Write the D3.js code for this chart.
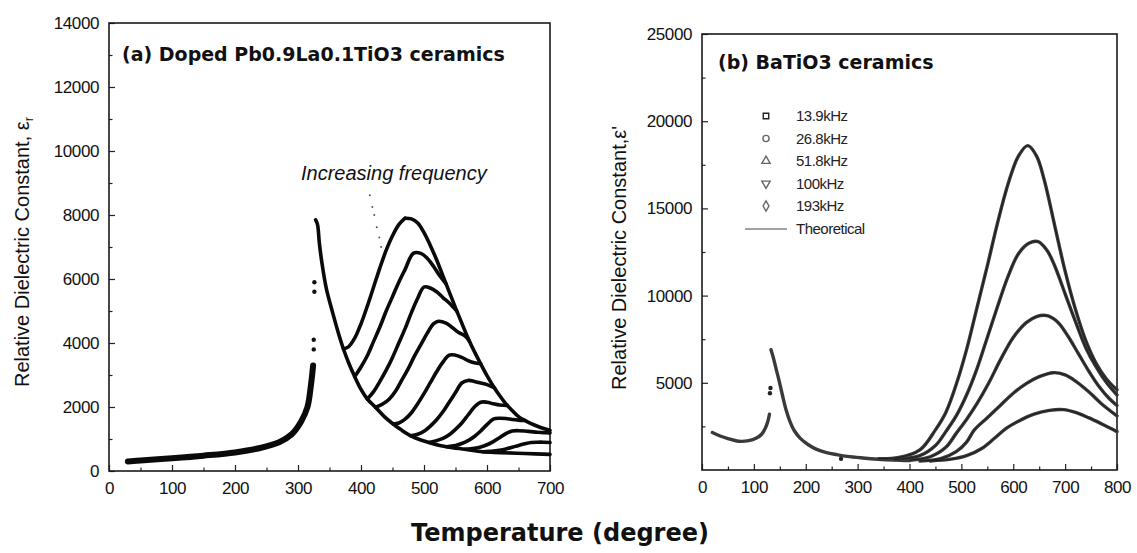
<!DOCTYPE html>
<html>
<head>
<meta charset="utf-8">
<script src="https://cdn.jsdelivr.net/npm/d3@7"></script>
<style>
body { margin: 0; background: #fff; }
</style>
</head>
<body>
<svg id="chart" width="1137" height="553"></svg>
<script>
// ---- panel (a): Pb0.9La0.1TiO3, [T, eps] ----
const aLow = [[30,300],[50,330],[100,400],[150,480],[200,580],[240,720],[270,900],[290,1150],[305,1550],[315,2000],[320,2600],[324,3300]];
const aSpikeDots = [[325,3800],[325,4100],[326,5600],[326,5900]];
const aDesc = [[328,7850],[331,7700],[334,7100],[338,6500],[345,5700],[355,4950],[365,4250],[372,3820],[380,3400],[390,2950],[400,2550],[410,2250],[423,1990],[437,1700],[451,1470],[465,1270],[479,1100],[495,970],[508,890],[525,800],[545,730],[565,680],[593,600],[621,575],[660,545],[700,520]];
const aTop = [[470,7900],[480,7880],[490,7750],[500,7450],[510,7050],[520,6600],[530,6100],[540,5600],[550,5100],[560,4620],[570,4150],[580,3730],[590,3350],[600,2980],[610,2650],[620,2360],[630,2100],[640,1890],[650,1700],[660,1580],[670,1480],[680,1400],[690,1330],[700,1270]];
const aHump1 = [[372,3820],[380,3880],[390,4150],[400,4600],[410,5150],[420,5750],[430,6350],[440,6900],[450,7350],[460,7700],[470,7900]];
const aHump2 = [[390,2950],[400,3250],[410,3600],[420,4050],[430,4500],[440,5000],[450,5450],[460,5900],[470,6300],[483,6800],[495,6800],[505,6650],[515,6400],[525,6100],[535,5850]];
const aHump3 = [[410,2250],[420,2480],[430,2800],[440,3150],[450,3550],[460,4000],[470,4450],[480,4950],[490,5400],[500,5750],[510,5720],[520,5600],[530,5420],[540,5250],[552,5000]];
const aHump4 = [[423,1990],[435,2100],[445,2250],[455,2500],[465,2850],[475,3200],[485,3600],[495,3950],[505,4300],[515,4600],[523,4680],[535,4620],[545,4480],[555,4330],[565,4220],[572,4060]];
const aHump5 = [[451,1470],[460,1500],[470,1620],[480,1820],[490,2100],[500,2420],[510,2760],[520,3100],[530,3400],[540,3620],[550,3620],[560,3550],[570,3450],[580,3380],[590,3350]];
const aHump6 = [[479,1100],[490,1150],[500,1240],[510,1400],[520,1600],[530,1850],[540,2150],[550,2450],[560,2750],[570,2830],[580,2800],[590,2750],[600,2700],[612,2600]];
const aHump7 = [[508,890],[520,950],[530,1020],[540,1130],[550,1300],[560,1500],[570,1750],[580,2000],[590,2150],[600,2150],[610,2100],[620,2060],[632,2050]];
const aHump8 = [[536,760],[550,800],[560,860],[570,950],[580,1080],[590,1250],[600,1450],[610,1620],[620,1650],[630,1640],[640,1610],[650,1590],[660,1580]];
const aHump9 = [[565,680],[580,710],[590,750],[600,820],[610,920],[620,1040],[630,1170],[640,1250],[650,1260],[660,1250],[670,1230],[680,1210],[690,1200],[700,1190]];
const aHump10 = [[593,600],[610,620],[620,650],[630,690],[640,740],[650,800],[660,850],[670,890],[680,900],[690,900],[700,890]];
const aStray = [[414,8620],[418,8250],[421,8000],[425,7620],[429,7300],[432,7000]];

// ---- panel (b): BaTiO3, [T, eps] ----
const bLow = [[20,2150],[35,1950],[50,1800],[70,1650],[90,1680],[105,1830],[115,2050],[122,2400],[127,2800],[130,3200]];
const bDots = [[131,4400],[132,4700],[268,640]];
const bDesc = [[133,6900],[137,6500],[142,5900],[148,5200],[155,4300],[162,3450],[170,2750],[178,2250],[190,1800],[205,1450],[220,1200],[240,1000],[260,880],[280,780],[310,690],[340,620],[370,570],[400,540]];
const b139 = [[340,650],[380,720],[420,1150],[450,2300],[470,3300],[490,4900],[510,6900],[530,9300],[550,11700],[570,14200],[590,16400],[610,18000],[628,18600],[645,18000],[660,16600],[680,14000],[700,11400],[720,9200],[740,7400],[760,6100],[780,5200],[800,4600]];
const b268 = [[370,600],[420,820],[450,1400],[470,2200],[490,3100],[510,4300],[530,5800],[550,7600],[570,9400],[590,11100],[610,12400],[630,13000],[648,13100],[665,12600],[680,11700],[700,10100],[720,8500],[740,7000],[760,5900],[780,5000],[800,4300]];
const b518 = [[400,560],[440,760],[470,1300],[490,2100],[510,2900],[530,3800],[553,5000],[575,6300],[600,7600],[625,8450],[645,8800],[665,8850],[685,8500],[705,7700],[725,6700],[745,5700],[765,4800],[785,4100],[800,3700]];
const b100 = [[420,520],[460,650],[490,1050],[510,1600],[525,2300],[550,3000],[575,3700],[600,4400],[625,4950],[650,5350],[677,5580],[700,5450],[720,5100],[745,4500],[770,3800],[800,3100]];
const b193 = [[440,520],[480,620],[510,820],[540,1250],[565,1850],[587,2400],[610,2800],[640,3200],[670,3420],[697,3460],[720,3300],[745,3000],[770,2650],[800,2200]];

const legendLabels = ["13.9kHz", "26.8kHz", "51.8kHz", "100kHz", "193kHz"];
const xTicksA = [0,100,200,300,400,500,600,700];
const yTicksA = [0,2000,4000,6000,8000,10000,12000,14000];
const xTicksB = [0,100,200,300,400,500,600,700,800];
const yTicksB = [5000,10000,15000,20000,25000];

const svg = d3.select("#chart");
const FONT = "'Liberation Sans', Arial, sans-serif";
const BOLD = "'DejaVu Sans', Verdana, sans-serif";

function drawPanel(o) {
    const x = d3.scaleLinear().domain(o.xDomain).range([o.left, o.right]);
    const y = d3.scaleLinear().domain(o.yDomain).range([o.bottom, o.top]);
    const g = svg.append("g");

    // minor ticks
    g.append("g").attr("transform", "translate(0," + o.bottom + ")")
        .call(d3.axisBottom(x).tickValues(o.xMinor).tickSizeInner(-3.5).tickSizeOuter(0).tickFormat(""))
        .call(a => a.select(".domain").remove());
    g.append("g").attr("transform", "translate(" + o.left + ",0)")
        .call(d3.axisLeft(y).tickValues(o.yMinor).tickSizeInner(-3.5).tickSizeOuter(0).tickFormat(""))
        .call(a => a.select(".domain").remove());

    // major ticks + labels
    const fmt = d3.format("d");
    const xa = g.append("g").attr("transform", "translate(0," + o.bottom + ")")
        .call(d3.axisBottom(x).tickValues(o.xTicks).tickFormat(fmt).tickSizeInner(-6).tickSizeOuter(0).tickPadding(11));
    const ya = g.append("g").attr("transform", "translate(" + o.left + ",0)")
        .call(d3.axisLeft(y).tickValues(o.yTicks).tickFormat(fmt).tickSizeInner(-6).tickSizeOuter(0).tickPadding(10));
    [xa, ya].forEach(a => {
        a.select(".domain").remove();
        a.attr("font-size", 17).attr("font-family", FONT);
        a.selectAll("text").attr("fill", "#111").style("letter-spacing", "-0.4px");
    });
    g.selectAll(".tick line").attr("stroke", "#222").attr("stroke-width", 1.2);

    // frame
    g.append("rect")
        .attr("x", o.left).attr("y", o.top)
        .attr("width", o.right - o.left).attr("height", o.bottom - o.top)
        .attr("fill", "none").attr("stroke", "#1a1a1a").attr("stroke-width", 1.6);

    return { x, y, g };
}

// ---------- panel (a) ----------
const pa = drawPanel({
    left: 109, right: 550, top: 23, bottom: 471,
    xDomain: [0, 700], yDomain: [0, 14000],
    xTicks: xTicksA, yTicks: yTicksA,
    xMinor: d3.range(50, 700, 100), yMinor: d3.range(1000, 14000, 2000)
});
const lineA = d3.line().x(d => pa.x(d[0])).y(d => pa.y(d[1])).curve(d3.curveCatmullRom);

pa.g.append("path").datum(aLow).attr("d", lineA)
    .attr("fill", "none").attr("stroke", "#0a0a0a").attr("stroke-width", 6).attr("stroke-linecap", "round");
[aDesc, aTop, aHump1, aHump2, aHump3, aHump4, aHump5, aHump6, aHump7, aHump8, aHump9, aHump10].forEach(s => {
    pa.g.append("path").datum(s).attr("d", lineA)
        .attr("fill", "none").attr("stroke", "#0a0a0a").attr("stroke-width", 3.6).attr("stroke-linecap", "round");
});
pa.g.selectAll(".spike").data(aSpikeDots).enter().append("circle")
    .attr("cx", d => pa.x(d[0])).attr("cy", d => pa.y(d[1])).attr("r", 2.2).attr("fill", "#111");
pa.g.selectAll(".stray").data(aStray).enter().append("circle")
    .attr("cx", d => pa.x(d[0])).attr("cy", d => pa.y(d[1])).attr("r", 1).attr("fill", "#555");

svg.append("text").attr("x", 122).attr("y", 61)
    .attr("font-family", BOLD).attr("font-weight", "bold").attr("font-size", 19)
    .attr("fill", "#111").text("(a) Doped Pb0.9La0.1TiO3 ceramics");
svg.append("text").attr("x", 301).attr("y", 180)
    .attr("font-family", FONT).attr("font-style", "italic").attr("font-size", 20)
    .attr("fill", "#111").text("Increasing frequency");
const ta = svg.append("text").attr("transform", "translate(29,252) rotate(-90)")
    .attr("text-anchor", "middle").attr("font-family", FONT).attr("font-size", 20).attr("fill", "#111");
ta.append("tspan").text("Relative Dielectric Constant, ε");
ta.append("tspan").attr("font-size", 13).attr("dy", 4).text("r");

// ---------- panel (b) ----------
const pb = drawPanel({
    left: 702, right: 1117, top: 34, bottom: 470,
    xDomain: [0, 800], yDomain: [0, 25000],
    xTicks: xTicksB, yTicks: yTicksB,
    xMinor: d3.range(50, 800, 100), yMinor: d3.range(2500, 25000, 5000)
});
const lineB = d3.line().x(d => pb.x(d[0])).y(d => pb.y(d[1])).curve(d3.curveCatmullRom);

[bLow, bDesc, b139, b268, b518, b100, b193].forEach(s => {
    pb.g.append("path").datum(s).attr("d", lineB)
        .attr("fill", "none").attr("stroke", "#3a3a3a").attr("stroke-width", 3.4).attr("stroke-linecap", "round");
});
// theoretical
[b139, b268, b518, b100, b193].forEach(s => {
    pb.g.append("path").datum(s).attr("d", lineB)
        .attr("fill", "none").attr("stroke", "#111").attr("stroke-width", 0.8);
});
pb.g.selectAll(".dots").data(bDots).enter().append("circle")
    .attr("cx", d => pb.x(d[0])).attr("cy", d => pb.y(d[1])).attr("r", 2.2).attr("fill", "#222");

// legend
const symTypes = [d3.symbolSquare, d3.symbolCircle, d3.symbolTriangle, d3.symbolTriangle, d3.symbolDiamond];
const leg = svg.append("g");
legendLabels.forEach((lab, i) => {
    const yy = 116 + i * 22.5;
    leg.append("path")
        .attr("d", d3.symbol().type(symTypes[i]).size(30)())
        .attr("transform", "translate(766," + yy + ")" + (i === 3 ? " rotate(180)" : ""))
        .attr("fill", "none").attr("stroke", i === 0 ? "#222" : "#666").attr("stroke-width", 1.4);
    leg.append("text").attr("x", 796).attr("y", yy + 5)
        .attr("font-family", FONT).attr("font-size", 15).attr("fill", "#222")
        .style("letter-spacing", "-0.5px").text(lab);
});
leg.append("line").attr("x1", 745).attr("x2", 787).attr("y1", 229).attr("y2", 229)
    .attr("stroke", "#444").attr("stroke-width", 1);
leg.append("text").attr("x", 796).attr("y", 234)
    .attr("font-family", FONT).attr("font-size", 15).attr("fill", "#222")
    .style("letter-spacing", "-0.5px").text("Theoretical");

svg.append("text").attr("x", 718).attr("y", 69)
    .attr("font-family", BOLD).attr("font-weight", "bold").attr("font-size", 19)
    .attr("fill", "#111").text("(b) BaTiO3 ceramics");
svg.append("text").attr("transform", "translate(626,258) rotate(-90)")
    .attr("text-anchor", "middle").attr("font-family", FONT).attr("font-size", 20).attr("fill", "#111")
    .text("Relative Dielectric Constant,ε'");

// shared x title
svg.append("text").attr("x", 560).attr("y", 541)
    .attr("text-anchor", "middle").attr("font-family", BOLD)
    .attr("font-weight", "bold").attr("font-size", 24).attr("fill", "#111")
    .text("Temperature (degree)");
</script>
</body>
</html>
